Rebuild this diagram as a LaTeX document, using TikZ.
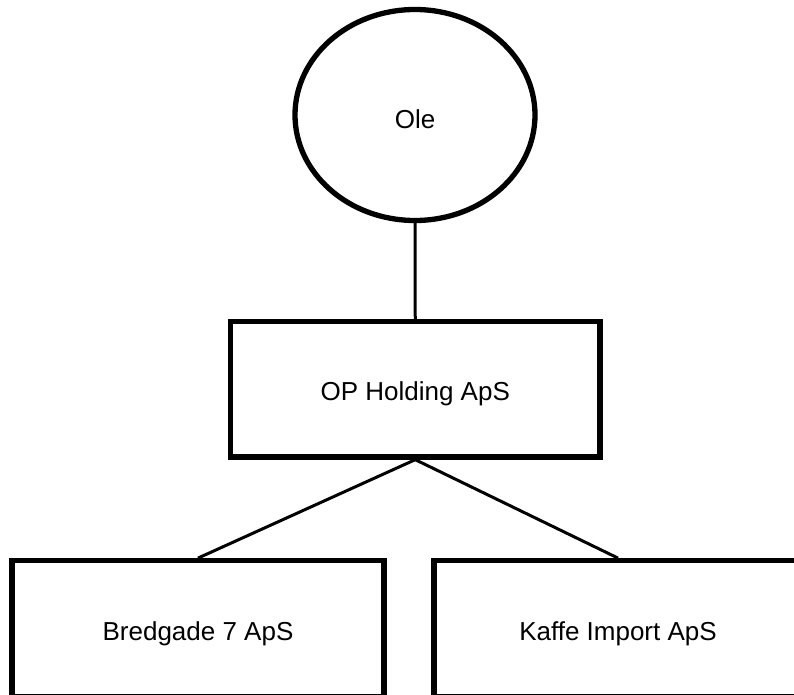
\documentclass[tikz,border=0pt]{standalone}
\usepackage{fontspec}
\setmainfont{Liberation Sans}
\usetikzlibrary{shapes.geometric}
% shift a label down without changing the box it occupies
\newcommand{\lowered}[2]{\raisebox{-#1}[\height][\depth]{#2}}
\begin{document}
\begin{tikzpicture}[x=1pt,y=-1pt,
  entity/.style={draw=black,line width=5.3pt,fill=white,inner sep=0pt,
    font=\fontsize{26}{30}\selectfont},
  owner/.style={entity,ellipse,minimum width=240pt,minimum height=211pt},
  company/.style={entity,rectangle,minimum height=135.5pt},
  link/.style={draw=black,line width=3pt}]
  \useasboundingbox (0,0) rectangle (794,695);
  \clip (0,0) rectangle (794,695);
  \fill[white] (0,0) rectangle (794,695);

  % owner and holding company
  \node[owner] (ole) at (415,115) {\lowered{4pt}{Ole}};
  \node[company,minimum width=369.5pt] (holding) at (415.25,389.25) {\lowered{5pt}{OP Holding ApS}};

  % subsidiaries (lower edge runs off the page)
  \node[company,minimum width=372pt] (bredgade) at (198,628.5) {\lowered{5pt}{Bredgade 7 ApS}};
  \node[company,minimum width=368pt] (kaffe) at (618,628.5) {\lowered{5pt}{Kaffe Import ApS}};

  % ownership lines
  \draw[link] (ole.south) -- (holding.north);
  \draw[link] (holding.south) -- (bredgade.north);
  \draw[link] (holding.south) -- (kaffe.north);
\end{tikzpicture}
\end{document}
